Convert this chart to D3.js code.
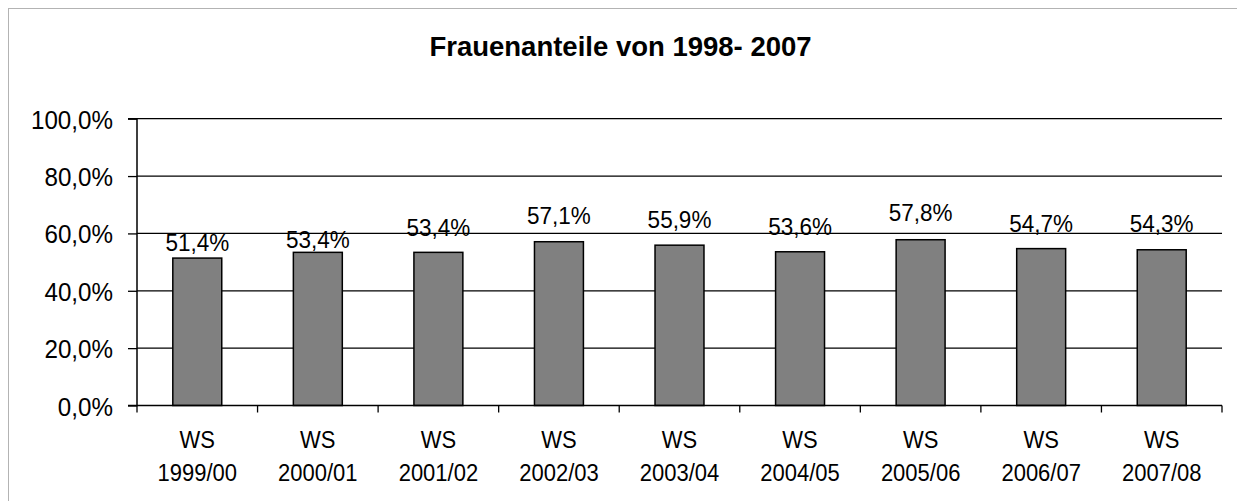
<!DOCTYPE html>
<html><head><meta charset="utf-8">
<script src="https://cdn.jsdelivr.net/npm/d3@7"></script>
<style>
html,body{margin:0;padding:0;background:#fff;}
svg text{font-family:"Liberation Sans",Arial,sans-serif;fill:#000;}
</style></head>
<body>
<svg id="chart" width="1237" height="501"></svg>
<script>
const title = "Frauenanteile von 1998- 2007";
const categoriesTop = ["WS","WS","WS","WS","WS","WS","WS","WS","WS"];
const categories = ["1999/00","2000/01","2001/02","2002/03","2003/04","2004/05","2005/06","2006/07","2007/08"];
const values = [51.4, 53.4, 53.4, 57.1, 55.9, 53.6, 57.8, 54.7, 54.3];
const yTicks = [0, 20, 40, 60, 80, 100];

// layout: manually placed label lifts (px above bar top), as in the reference
const labelLift = [7, 4.5, 16.5, 17.5, 17, 17, 18.5, 16.5, 17.5];

const svg = d3.select("#chart");
const m = {left:137, right:1222, top:118.7, bottom:405.5};
const SY = 1.09; // vertical text stretch seen in the reference

// outer dotted border (right/bottom cropped)
svg.append("rect").attr("x",8.5).attr("y",8.5).attr("width",1300).attr("height",600)
  .attr("fill","none").attr("stroke","#666").attr("stroke-width",1).attr("stroke-dasharray","1,1");

svg.append("text").attr("transform","translate(620.5,56)").attr("text-anchor","middle")
  .style("font-size","27.5px").style("font-weight","bold").text(title);

const x = d3.scaleBand().domain(categories).range([m.left, m.right]).paddingInner(0.594).paddingOuter(0.297);
const y = d3.scaleLinear().domain([0,100]).range([m.bottom, m.top]);

// gridlines
svg.append("g").selectAll("line").data(yTicks.filter(d=>d>0)).join("line")
  .attr("x1",m.left).attr("x2",m.right).attr("y1",d=>y(d)).attr("y2",d=>y(d))
  .attr("stroke","#000").attr("stroke-width",1.3);

// y axis
const yAxis = d3.axisLeft(y).tickValues(yTicks).tickSize(9).tickPadding(15)
  .tickFormat(d => d3.format(".1f")(d).replace(".", ",") + "%");
const gy = svg.append("g").attr("transform",`translate(${m.left},0)`).call(yAxis);
gy.select(".domain").attr("stroke","#000").attr("stroke-width",1.5).attr("d",`M-9,${m.top}H0V${m.bottom}H-9`);
gy.selectAll(".tick line").attr("stroke","#000").attr("stroke-width",1.3);
gy.selectAll(".tick text").style("font-size","24.2px").attr("fill","#000").attr("dy","0.36em")
  .attr("transform",`scale(1,${SY})`);

// bars
svg.append("g").selectAll("rect").data(values).join("rect")
  .attr("x",(d,i)=>x(categories[i])).attr("width",x.bandwidth())
  .attr("y",d=>y(d)).attr("height",d=>y(0)-y(d))
  .attr("fill","#808080").attr("stroke","#000").attr("stroke-width",1.5);

// x axis line and boundary ticks
svg.append("line").attr("x1",m.left).attr("x2",m.right).attr("y1",y(0)).attr("y2",y(0))
  .attr("stroke","#000").attr("stroke-width",1.5);
const bounds = d3.range(categories.length+1).map(i => m.left + i*x.step());
svg.append("g").selectAll("line").data(bounds).join("line")
  .attr("x1",d=>d).attr("x2",d=>d).attr("y1",y(0)).attr("y2",y(0)+7)
  .attr("stroke","#000").attr("stroke-width",1.3);

// category labels
const cx = i => x(categories[i]) + x.bandwidth()/2;
const gx = svg.append("g");
gx.selectAll("text.top").data(categoriesTop).join("text").attr("class","top")
  .attr("transform",(d,i)=>`translate(${cx(i)},448) scale(1,${SY})`)
  .attr("text-anchor","middle").style("font-size","22px").text(d=>d);
gx.selectAll("text.bot").data(categories).join("text").attr("class","bot")
  .attr("transform",(d,i)=>`translate(${cx(i)},481) scale(1,${SY})`)
  .attr("text-anchor","middle").style("font-size","22px").text(d=>d);

// data labels
svg.append("g").selectAll("text").data(values).join("text")
  .attr("transform",(d,i)=>`translate(${cx(i)},${y(d)-labelLift[i]}) scale(1,${SY})`)
  .attr("text-anchor","middle").style("font-size","22.5px")
  .text(d => d3.format(".1f")(d).replace(".", ",") + "%");
</script>
</body></html>
